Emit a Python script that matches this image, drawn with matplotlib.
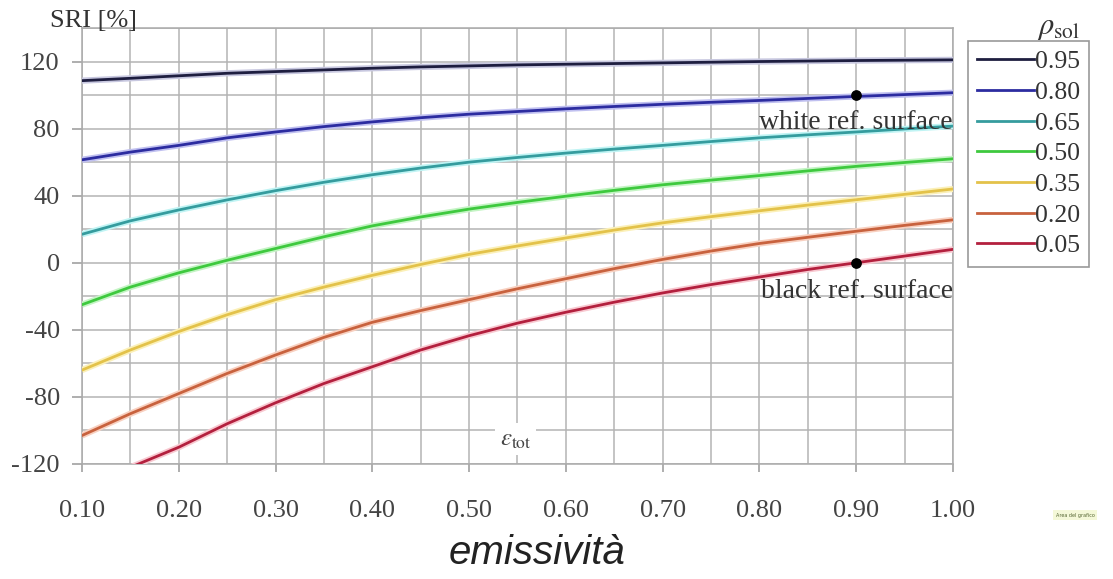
import matplotlib.pyplot as plt
import numpy as np

plt.rcParams['axes.unicode_minus'] = False
plt.rcParams['mathtext.fontset'] = 'stix'

# emissivity (x) at 0.05 steps, SRI [%]
eps = [0.10, 0.15, 0.20, 0.25, 0.30, 0.35, 0.40, 0.45, 0.50, 0.55,
       0.60, 0.65, 0.70, 0.75, 0.80, 0.85, 0.90, 0.95, 1.00]
eps_005 = eps[1:]  # the 0.05 curve enters the plot at 0.15

sri_095 = [108.6, 110, 111.5, 113, 114, 115, 116, 116.8, 117.4, 118,
           118.4, 118.8, 119.2, 119.6, 120, 120.3, 120.6, 120.8, 121]
sri_080 = [61.4, 66, 70, 74.5, 78, 81.2, 84, 86.5, 88.6, 90.2,
           91.8, 93.2, 94.5, 95.7, 96.8, 98, 99.2, 100.3, 101.4]
sri_065 = [17, 25, 31.5, 37.5, 43, 48, 52.5, 56.5, 60, 62.8,
           65.4, 67.8, 70, 72.3, 74.5, 76.3, 78, 79.8, 81.5]
sri_050 = [-25, -14.5, -6, 1.5, 8.5, 15.5, 22, 27.3, 32, 36,
           39.7, 43.2, 46.5, 49.3, 52, 54.8, 57.5, 59.8, 62]
sri_035 = [-64, -52, -41, -31, -22, -14.5, -7.5, -1, 5, 10,
           14.8, 19.5, 23.8, 27.5, 31, 34.4, 37.6, 40.8, 44]
sri_020 = [-103, -90, -78, -66, -55, -44.5, -35.5, -28.5, -22, -15.5,
           -9.5, -3.5, 2, 7, 11.5, 15.2, 18.8, 22.3, 25.6]
sri_005 = [-122, -110, -96, -83.5, -72, -62, -52, -43.5, -36,
           -29.5, -23.5, -18, -13, -8.5, -4, 0, 4, 8]

labels = ['0.95', '0.80', '0.65', '0.50', '0.35', '0.20', '0.05']
colors = ['#1e1e40', '#2c2ca0', '#359c9e', '#3ec93e', '#e3c24a', '#c8623e', '#b3203e']
halos = ['#c8c8e0', '#c0c0f0', '#c0f4f4', '#c4f4c4', '#fbf0b8', '#f8d0c0', '#f8c8d0']

ref_x = [0.90, 0.90]
ref_y = [100, 0]

serif = 'Liberation Serif'
tick_col = '#444444'

fig = plt.figure(figsize=(11.13, 5.79), dpi=100)
ax = fig.add_axes([82 / 1113, 1 - 464 / 579, (953 - 82) / 1113, (464 - 28) / 579])

series = [sri_095, sri_080, sri_065, sri_050, sri_035, sri_020, sri_005]
for i, s in enumerate(series):
    xs = eps_005 if i == 6 else eps
    ax.plot(xs, s, color=halos[i], lw=4.5, solid_capstyle='butt', zorder=3)
    ax.plot(xs, s, color=colors[i], lw=2.0, label=labels[i], zorder=4)

ax.scatter(ref_x, ref_y, s=45, color='black', zorder=5)
ax.text(1.0, 83.5, 'white ref. surface', ha='right', va='center',
        family=serif, fontsize=20, color='#333333', zorder=6)
ax.text(1.0, -17, 'black ref. surface', ha='right', va='center',
        family=serif, fontsize=20, color='#333333', zorder=6)
ax.text(0.548, -105, r'$\varepsilon_{\rm tot}$', ha='center', va='center',
        fontsize=18, color='#444444', zorder=6,
        bbox=dict(facecolor='white', edgecolor='none', pad=3))

ax.set_xlim(0.10, 1.00)
ax.set_ylim(-120, 140)
ax.set_xticks(np.arange(0.10, 1.001, 0.10))
ax.set_xticklabels(['%.2f' % v for v in np.arange(0.10, 1.001, 0.10)])
ax.set_yticks([-120, -80, -40, 0, 40, 80, 120])
ax.set_xticks(np.arange(0.10, 1.001, 0.05), minor=True)
ax.set_yticks(np.arange(-120, 141, 20), minor=True)
ax.grid(which='both', color='#b4b4b4', lw=1.1)
ax.set_axisbelow(True)
ax.tick_params(which='minor', length=0)
ax.tick_params(axis='x', which='major', length=6, width=1.1, color='#999999',
               pad=20, labelsize=19, labelcolor=tick_col)
ax.tick_params(axis='y', which='major', length=7, width=1.1, color='#999999',
               pad=9, labelsize=19, labelcolor=tick_col)
for lab in ax.get_xticklabels() + ax.get_yticklabels():
    lab.set_family(serif)
for sp in ax.spines.values():
    sp.set_color('#aaaaaa')
    sp.set_linewidth(1.1)

fig.text(50 / 1113, 1 - 21 / 579, 'SRI [%]', family=serif, fontsize=19,
         color='#333333', va='center', ha='left')

leg = ax.legend(loc='upper left', bbox_to_anchor=(968 / 1113, 1 - 41 / 579),
                bbox_transform=fig.transFigure, borderaxespad=0, fancybox=False,
                framealpha=1, edgecolor='#999999', handlelength=2.2,
                handletextpad=0.05, labelspacing=0.3, borderpad=0.36,
                prop={'family': serif, 'size': 18.5})
for t in leg.get_texts():
    t.set_color('#333333')
leg.get_frame().set_linewidth(1.2)

fig.text(1059 / 1113, 1 - 27 / 579, r'$\rho_{\rm sol}$', fontsize=22,
         color='#333333', ha='center', va='center')

fig.text(1075 / 1113, 1 - 515 / 579, 'Area del grafico', fontsize=3.5,
         color='#556633', ha='center', va='center',
         bbox=dict(facecolor='#f4f8d8', edgecolor='none', pad=1.5))

fig.text(537 / 1113, 1 - 553 / 579, 'emissività', family='Liberation Sans',
         style='italic', fontsize=29, color='#222222', ha='center', va='center')

fig.savefig('out.png', dpi=100)
